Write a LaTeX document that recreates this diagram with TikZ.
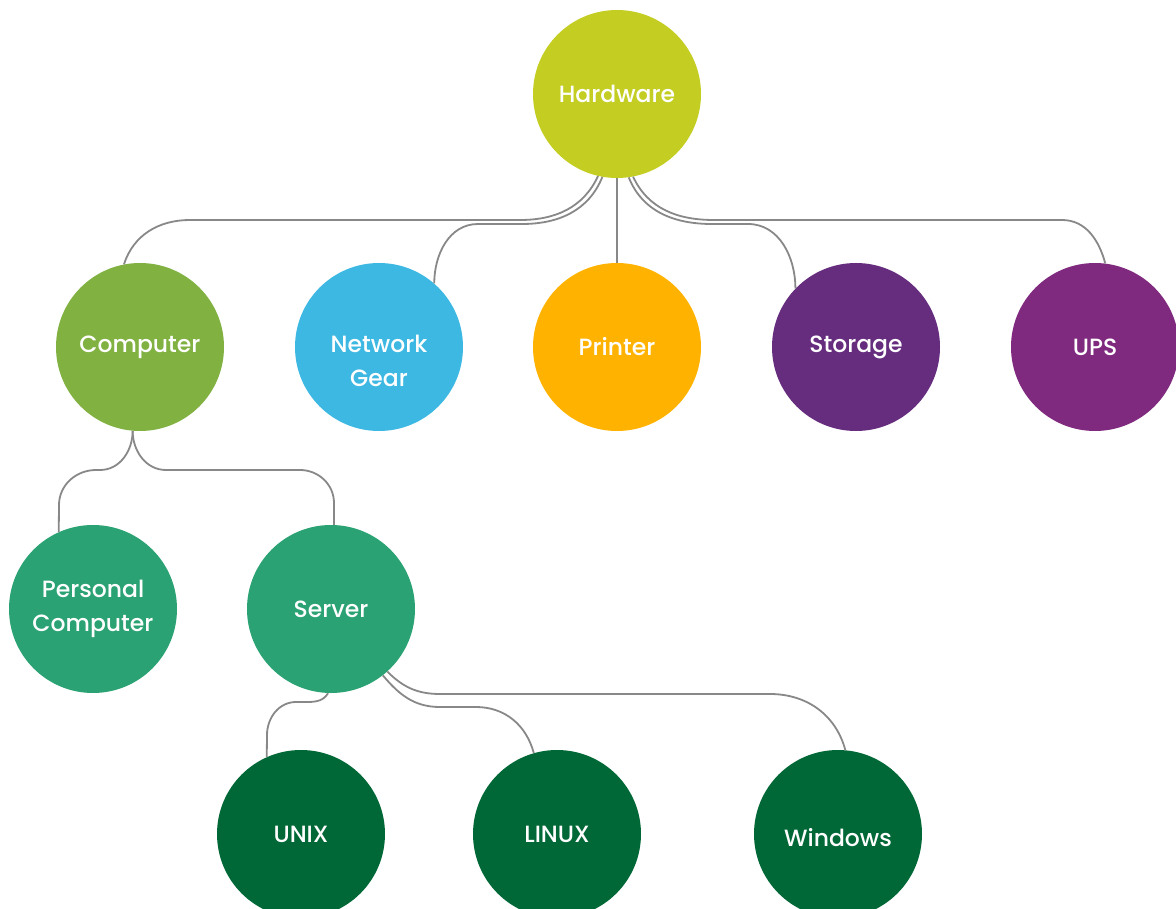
\documentclass[tikz,border=0pt]{standalone}
\usepackage{fontspec}
\setmainfont{Poppins Medium}
\usetikzlibrary{positioning}
\definecolor{hwcol}{HTML}{C3CD22}
\definecolor{compcol}{HTML}{80B141}
\definecolor{netcol}{HTML}{3DB8E2}
\definecolor{prncol}{HTML}{FFB300}
\definecolor{storcol}{HTML}{662D7F}
\definecolor{upscol}{HTML}{7F2A7E}
\definecolor{midcol}{HTML}{2AA273}
\definecolor{oscol}{HTML}{006837}
\definecolor{linkcol}{HTML}{888888}
\newcommand{\lowline}[1]{\raisebox{-14pt}[\height][\depth]{#1}}
\begin{document}
\begin{tikzpicture}[x=1pt,y=-1pt,
    blob/.style={circle,minimum size=168pt,inner sep=0pt,text=white,align=center,
      font=\fontsize{23.5}{34}\selectfont},
    link/.style={draw=linkcol,line width=1.8pt}]
  \useasboundingbox (0,0) rectangle (1176,909);
  % top level
  \node [blob,fill=hwcol] (hw) at (617,94) {Hardware};
  % second level
  \node [blob,fill=compcol] (comp) at (140,347) {Computer};
  \node [blob,fill=netcol] (net) at (379,347) {\lowline{Network}\\\lowline{Gear}};
  \node [blob,fill=prncol] (prn) at (617,347) {Printer};
  \node [blob,fill=storcol] (stor) at (856,347) {Storage};
  \node [blob,fill=upscol] (ups) at (1095,347) {UPS};
  % computers
  \node [blob,fill=midcol] (pc) at (93,609) {Personal\\Computer};
  \node [blob,fill=midcol] (srv) at (331,609) {Server};
  % systems
  \node [blob,fill=oscol] (unix) at (301,834) {UNIX};
  \node [blob,fill=oscol] (linux) at (557,834) {LINUX};
  \node [blob,fill=oscol] (win) at (838,834) {\raisebox{-4pt}[\height][\depth]{Windows}};
  % links from hardware
  \draw [link] (hw.-103) to[out=-115,in=0] (520,220) -- (190,220) to[out=180,in=72] (comp.101);
  \draw [link] (hw.-100) to[out=-112,in=0] (522,224) -- (478,224) to[out=180,in=90] (net.49);
  \draw [link] (hw.south) -- (prn.north);
  \draw [link] (hw.-82) to[out=-68,in=180] (712,224) -- (748,224) to[out=0,in=90] (stor.136);
  \draw [link] (hw.-79) to[out=-65,in=180] (714,220) -- (1062,220) to[out=0,in=105] (ups.83);
  % links from computer
  \draw [link] (comp.-95) to[out=-90,in=0] (100,470) -- (96,470) to[out=180,in=90] (59,505) -- (pc.114);
  \draw [link] (comp.-95) to[out=-90,in=180] (166,470) -- (300,470) to[out=0,in=90] (334,503) -- (srv.88);
  % links from server
  \draw [link] (srv.-92) to[out=-120,in=0] (300,702) -- (296,702) to[out=180,in=90] (267,735) -- (unix.114);
  \draw [link] (srv.-52) to[out=-50,in=180] (440,707) -- (476,707) to[out=0,in=105] (linux.106);
  \draw [link] (srv.-48) to[out=-45,in=180] (440,694) -- (770,694) to[out=0,in=105] (win.85);
\end{tikzpicture}
\end{document}
